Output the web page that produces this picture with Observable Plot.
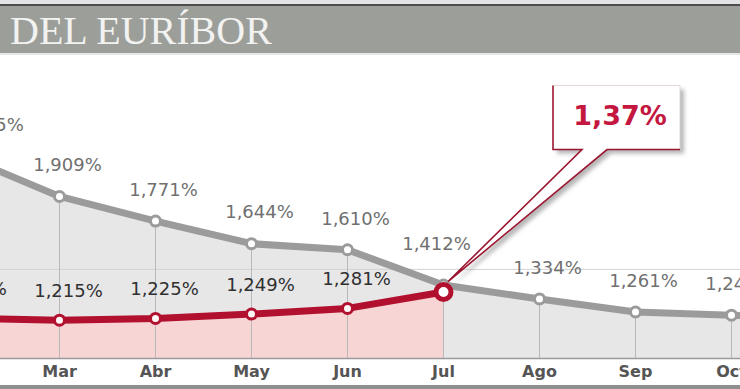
<!DOCTYPE html>
<html><head><meta charset="utf-8">
<script src="https://cdn.jsdelivr.net/npm/d3@7"></script>
<script src="https://cdn.jsdelivr.net/npm/@observablehq/plot@0.6"></script>
<style>
html,body{margin:0;padding:0;background:#fff;width:740px;height:389px;overflow:hidden}
#hdr{position:relative;height:55px;background:#f2f2f2}
#hdr .top{position:absolute;left:0;right:0;top:0;height:4px;background:#e3e3e3}
#hdr .line{position:absolute;left:0;right:0;top:4px;height:2px;background:#4d4d4d}
#hdr .band{position:absolute;left:0;right:0;top:6px;height:47px;background:#9c9e9a;color:#f2f2f0;font-family:"Liberation Serif",serif;font-size:40px;line-height:47px;padding-left:10px;padding-top:1px;box-sizing:border-box;white-space:nowrap}
#hdr .under{position:absolute;left:0;right:0;top:53px;height:2px;background:#e6e6e6}
#chart svg{display:block;overflow:hidden !important}
#foot{height:4px;background:#8f8f8f}
</style></head><body>
<div id="hdr"><div class="top"></div><div class="line"></div><div class="band">DEL EURÍBOR</div><div class="under"></div></div>
<div id="chart"></div>
<div id="foot"></div>
<script>
const months = ["Feb","Mar","Abr","May","Jun","Jul","Ago","Sep","Oct","Nov"];
const prevYear = [2.135,1.909,1.771,1.644,1.610,1.412,1.334,1.261,1.243,1.231];
const currMonths = ["Feb","Mar","Abr","May","Jun","Jul"];
const currYear = [1.225,1.215,1.225,1.249,1.281,1.373];
const latestLabel = "1,37%";
const yDomain = [1.0, 2.7];
const gridValues = [1.5];

const prevRows = months.map((m,i)=>({month:m, value:prevYear[i]}));
const currRows = currMonths.map((m,i)=>({month:m, value:currYear[i]}));
const fmt = v => d3.format(".3f")(v).replace(".", ",") + "%";
const base = yDomain[0];
const firstMonth = months[0];
const lastMonth = currMonths[currMonths.length-1];

const GRAY = "#9b9b9b", RED = "#b2102f";

function callout(index, scales) {
  const px = scales.x(lastMonth), py = scales.y(currYear[currYear.length-1]);
  const bx = px + 110, by = py - 206, bw = 127, bh = 64;
  const b1 = bx + 29, b2 = bx + 54, tx = px + 5, ty = py - 10;
  const g = d3.create("svg:g");
  const f = g.append("defs").append("filter").attr("id","sh")
    .attr("x","-20%").attr("y","-20%").attr("width","150%").attr("height","150%");
  f.append("feDropShadow").attr("dx",4).attr("dy",4).attr("stdDeviation",2)
    .attr("flood-color","#777").attr("flood-opacity",0.55);
  const shape = `M${bx},${by}V${by+bh}H${b1}L${tx},${ty}L${b2},${by+bh}H${bx+bw}V${by}Z`;
  g.append("path").attr("d", shape).attr("fill","#fff").attr("filter","url(#sh)");
  g.append("path").attr("d", `M${bx},${by}H${bx+bw}V${by+bh}`)
    .attr("fill","none").attr("stroke","#e2d6d8").attr("stroke-width",1);
  g.append("path").attr("d", `M${bx},${by}V${by+bh}H${b1}L${tx},${ty}L${b2},${by+bh}H${bx+bw}`)
    .attr("fill","none").attr("stroke","#9b1631").attr("stroke-width",1.6);
  g.append("text").attr("x", bx+67).attr("y", by+30).attr("text-anchor","middle")
    .attr("dy","0.35em").attr("font-family","DejaVu Sans").attr("font-weight","bold")
    .attr("font-size",27).attr("fill","#c4173f").text(latestLabel);
  return g.node();
}

const plot = Plot.plot({
  width: 740, height: 330,
  marginTop: 0, marginBottom: 27, marginLeft: 0, marginRight: 0,
  style: {fontFamily: "DejaVu Sans", background: "transparent", overflow: "hidden"},
  x: {type: "point", domain: months, range: [-37, 827], padding: 0, label: null},
  y: {domain: yDomain, range: [303, 0], axis: null},
  marks: [
    Plot.areaY(prevRows, {x: "month", y1: base, y2: "value", fill: "#e7e7e7"}),
    Plot.areaY(currRows, {x: "month", y1: base, y2: "value", fill: "#f8d5d5"}),
    Plot.ruleY(gridValues, {stroke: "#d3d3d3", strokeWidth: 1}),
    Plot.ruleX(prevRows, {x: "month", y1: base, y2: "value", stroke: "#b9b9b9", strokeWidth: 1}),
    Plot.ruleY([base], {stroke: "#9a9a9a", strokeWidth: 1.5}),
    Plot.axisX({tickSize: 0, tickPadding: 7, fontSize: 16, fontWeight: "bold", fill: "#555", label: null}),
    Plot.line(prevRows, {x: "month", y: "value", stroke: GRAY, strokeWidth: 7, strokeLinejoin: "round"}),
    Plot.line(currRows, {x: "month", y: "value", stroke: RED, strokeWidth: 7, strokeLinejoin: "round"}),
    Plot.dot(prevRows, {x: "month", y: "value", r: 5, fill: "#fff", stroke: GRAY, strokeWidth: 3}),
    Plot.dot(currRows.filter(d => d.month !== lastMonth), {x: "month", y: "value", r: 5, fill: "#fff6f6", stroke: RED, strokeWidth: 3}),
    Plot.text(prevRows.filter(d => d.month !== lastMonth && d.month !== firstMonth), {x: "month", y: "value", text: d => fmt(d.value), dx: 8, dy: -31, fill: "#707070", fontSize: 18}),
    Plot.text(prevRows.filter(d => d.month === firstMonth), {x: "month", y: "value", text: d => fmt(d.value), dx: 26, dy: -31, fill: "#707070", fontSize: 18}),
    Plot.text(prevRows.filter(d => d.month === lastMonth), {x: "month", y: "value", text: d => fmt(d.value), dx: -7, dy: -41, fill: "#707070", fontSize: 18}),
    Plot.text(currRows.filter(d => d.month !== lastMonth), {x: "month", y: "value", text: d => fmt(d.value), dx: 9, dy: -29, fill: "#303030", fontSize: 18}),
    callout,
    Plot.dot(currRows.filter(d => d.month === lastMonth), {x: "month", y: "value", r: 7.5, fill: "#fff", stroke: RED, strokeWidth: 5})
  ]
});
document.getElementById("chart").appendChild(plot);
</script>
</body></html>
